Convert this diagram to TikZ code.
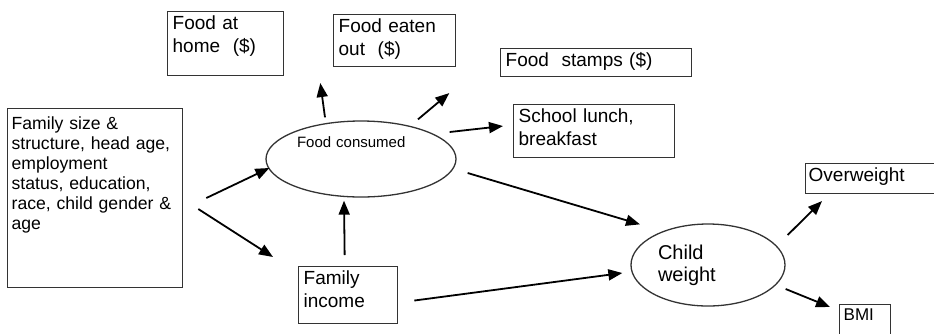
\documentclass[tikz,border=0pt]{standalone}
\usepackage{fontspec}
\setmainfont{Liberation Sans}
\usetikzlibrary{arrows.meta,shapes.geometric}

\begin{document}
\begin{tikzpicture}[x=1pt,y=-1pt,
  every node/.style={align=left,font=\fontsize{19}{23}\selectfont},
  box/.style={draw=black!80,line width=1.3pt,anchor=north west,inner xsep=5pt,inner ysep=4pt},
  oval/.style={draw=black!80,line width=1.3pt,ellipse,inner sep=0pt},
  arr/.style={-{Triangle[length=14pt,width=11pt]},line width=1.8pt}]
\useasboundingbox (0,0) rectangle (934,333);
\clip (0,0) rectangle (934,333);
% outcome boxes of food use
\node[box,text width=106pt,text depth=42pt] (home) at (167,11) {Food at\\home\ \ (\$)};
\node[box,text width=112pt,text depth=30pt] (out) at (333,14) {Food eaten\\out\ \ (\$)};
\node[box,text width=181pt,text depth=6pt] (stamps) at (500,48) {Food\ \ stamps (\$)};
\node[box,text width=151pt,text depth=31pt] (lunch) at (513,104) {School lunch,\\breakfast};
% family side
\node[box,inner xsep=4pt,inner ysep=8pt,text width=167pt,text depth=150pt,font=\fontsize{17.6}{20}\selectfont] (fam) at (7,108) {Family size \&\\structure, head age,\\employment\\status,\ education,\\race, child gender \&\\age};
\node[box,text width=89pt,text depth=35pt] (income) at (298,266) {Family\\income};
% child outcomes
\node[box,inner xsep=3pt,text width=134pt,text depth=8pt] (over) at (805,163) {Overweight};
\node[box,inner xsep=4pt,text width=43pt,text depth=30pt,font=\fontsize{17}{20}\selectfont] (bmi) at (839,304) {BMI};
\node[oval,minimum width=190pt,minimum height=76pt,text width=128pt,text depth=33pt,font=\fontsize{15}{18}\selectfont] (fc) at (361,159) {Food consumed};
\node[oval,minimum width=154pt,minimum height=82pt,text width=100pt,font=\fontsize{20}{22}\selectfont] (cw) at (708,265) {Child\\weight};
% arrows
\draw[arr] ([shift={(-36,-3)}]fc.north) -- ([shift={(36,7)}]home.south east);
\draw[arr] ([shift={(57,-1)}]fc.north) -- ([shift={(-7,26)}]out.south east);
\draw[arr] ([shift={(-7,-27)}]fc.east) -- ([shift={(-10,-5)}]lunch.west);
\draw[arr] ([shift={(11,14)}]fc.east) -- ([shift={(-68,1)}]cw.north);
\draw[arr] ([shift={(23,0)}]fam.east) -- ([shift={(4,9)}]fc.west);
\draw[arr] ([shift={(15,11)}]fam.east) -- ([shift={(-25,-9)}]income.north west);
\draw[arr] ([shift={(-3.5,-11)}]income.north) -- ([shift={(-17,3)}]fc.south);
\draw[arr] ([shift={(16,5.5)}]income.east) -- ([shift={(-8,8)}]cw.west);
\draw[arr] ([shift={(2,-30)}]cw.east) -- ([shift={(17,7)}]over.south west);
\draw[arr] ([shift={(0,24)}]cw.east) -- ([shift={(-9,3)}]bmi.north west);
\end{tikzpicture}
\end{document}
